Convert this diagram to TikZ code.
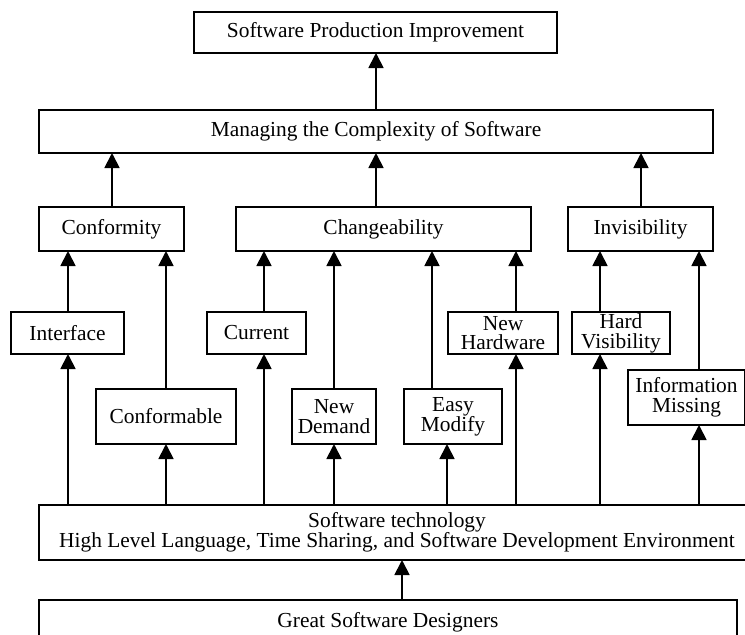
\documentclass[tikz,border=0pt]{standalone}
\usepackage{fontspec}
\setmainfont{Liberation Serif}
\usetikzlibrary{arrows.meta}

\begin{document}
\begin{tikzpicture}[x=1pt, y=-1pt,
  box/.style={draw, line width=1.8pt, inner sep=0pt, outer sep=0pt,
              align=center, font=\fontsize{21.4}{19.8}\selectfont},
  up/.style={line width=1.8pt, -{Triangle[length=15pt, width=15pt]}}
]
\useasboundingbox (0,0) rectangle (745,635);
\clip (0,0) rectangle (745,635);
\fill[white] (0,0) rectangle (745,635);

% goal and its direct cause
\node[box, minimum width=363pt, minimum height=41pt] (top) at (375.5,32.5) {Software Production Improvement};
\node[box, minimum width=674pt, minimum height=43pt] (mgr) at (376,131.5) {Managing the Complexity of Software};

% the three essential difficulties
\node[box, minimum width=145pt, minimum height=44pt] (conf)  at (111.5,229) {Conformity};
\node[box, minimum width=295pt, minimum height=44pt] (chg)   at (383.5,229) {Changeability};
\node[box, minimum width=145pt, minimum height=44pt] (invis) at (640.5,229) {Invisibility};

% upper row of causes
\node[box, minimum width=113pt, minimum height=42pt] (iface)   at (67.5,333) {Interface};
\node[box, minimum width=99pt,  minimum height=42pt] (curr)    at (256.5,333) {Current};
\node[box, minimum width=110pt, minimum height=42pt] (newhw)   at (503,333) {New\\Hardware};
\node[box, minimum width=98pt,  minimum height=42pt] (hardvis) at (621,333) {Hard\\Visibility};

% lower row of causes
\node[box, minimum width=140pt, minimum height=55pt] (confable) at (166,416.5) {Conformable};
\node[box, minimum width=84pt,  minimum height=55pt] (newdem)   at (334,416.5) {New\\Demand};
\node[box, minimum width=98pt,  minimum height=55pt] (easymod)  at (453,416.5) {Easy\\Modify};
\node[box, minimum width=117pt, minimum height=55pt] (infomiss) at (686.5,397.5) {Information\\Missing};

% foundations
\node[box, minimum width=716pt, minimum height=55pt] (tech) at (397,532.5)
  {Software technology\\High Level Language, Time Sharing, and Software Development Environment};
\node[box, minimum width=698pt, minimum height=44pt] (great) at (388,622) {Great Software Designers};

% horizontal positions of the connectors
\coordinate (xa) at (68,0);
\coordinate (xb) at (166,0);
\coordinate (xc) at (264,0);
\coordinate (xd) at (334,0);
\coordinate (xe) at (432,0);
\coordinate (xf) at (447,0);
\coordinate (xg) at (516,0);
\coordinate (xh) at (600,0);
\coordinate (xi) at (699,0);
\coordinate (xm) at (112,0);
\coordinate (xn) at (376,0);
\coordinate (xo) at (641,0);
\coordinate (xp) at (402,0);

% top levels
\draw[up] (mgr.north -| xn) -- (top.south -| xn);
\draw[up] (conf.north -| xm)  -- (mgr.south -| xm);
\draw[up] (chg.north -| xn)   -- (mgr.south -| xn);
\draw[up] (invis.north -| xo) -- (mgr.south -| xo);

% causes to difficulties
\draw[up] (iface.north -| xa)    -- (conf.south -| xa);
\draw[up] (confable.north -| xb) -- (conf.south -| xb);
\draw[up] (curr.north -| xc)     -- (chg.south -| xc);
\draw[up] (newdem.north -| xd)   -- (chg.south -| xd);
\draw[up] (easymod.north -| xe)  -- (chg.south -| xe);
\draw[up] (newhw.north -| xg)    -- (chg.south -| xg);
\draw[up] (hardvis.north -| xh)  -- (invis.south -| xh);
\draw[up] (infomiss.north -| xi) -- (invis.south -| xi);

% technology to causes
\draw[up] (tech.north -| xa) -- (iface.south -| xa);
\draw[up] (tech.north -| xb) -- (confable.south -| xb);
\draw[up] (tech.north -| xc) -- (curr.south -| xc);
\draw[up] (tech.north -| xd) -- (newdem.south -| xd);
\draw[up] (tech.north -| xf) -- (easymod.south -| xf);
\draw[up] (tech.north -| xg) -- (newhw.south -| xg);
\draw[up] (tech.north -| xh) -- (hardvis.south -| xh);
\draw[up] (tech.north -| xi) -- (infomiss.south -| xi);

% designers to technology
\draw[up] (great.north -| xp) -- (tech.south -| xp);
\end{tikzpicture}
\end{document}
